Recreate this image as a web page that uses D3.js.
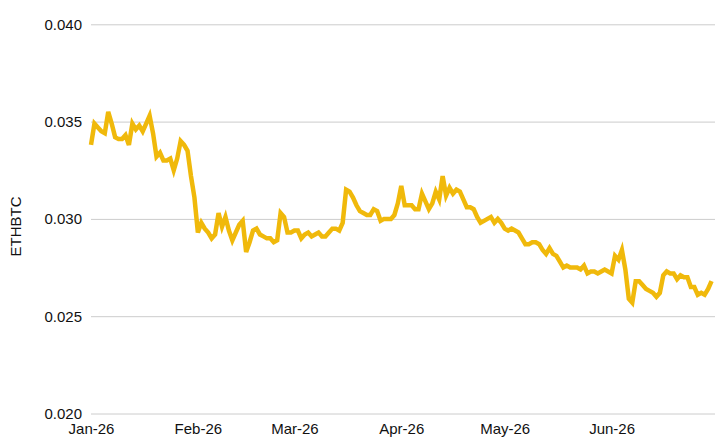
<!DOCTYPE html>
<html>
<head>
<meta charset="utf-8">
<script src="https://cdn.jsdelivr.net/npm/d3@7"></script>
<style>
  html, body { margin: 0; padding: 0; background: #fff; }
  svg { display: block; }
  text { font-family: "Liberation Sans", Arial, Helvetica, sans-serif; }
</style>
</head>
<body>
<svg id="chart" width="728" height="443"></svg>
<script>
// Daily ETHBTC closes, 1 Jan 2026 .. 30 Jun 2026
const startDate = "2026-01-01";
const ethbtc = [
  0.0338, 0.0349, 0.0347, 0.0345, 0.0344, 0.0355, 0.0349, 0.0342, 0.0341, 0.0341,
  0.0343, 0.0338, 0.0349, 0.0346, 0.0348, 0.0345, 0.0349, 0.0353, 0.0344, 0.0332,
  0.0334, 0.0330, 0.0330, 0.0331, 0.0325, 0.0331, 0.0340, 0.0338, 0.0335, 0.0322,
  0.0311, 0.0293, 0.0298, 0.0295, 0.0293, 0.0290, 0.0292, 0.0303, 0.0296, 0.0301,
  0.0294, 0.0289, 0.0293, 0.0297, 0.0299, 0.0283, 0.0288, 0.0294, 0.0295, 0.0292,
  0.0291, 0.0290, 0.0290, 0.0288, 0.0289, 0.0303, 0.0301, 0.0293, 0.0293, 0.0294,
  0.0294, 0.0290, 0.0292, 0.0293, 0.0291, 0.0292, 0.0293, 0.0291, 0.0291, 0.0293,
  0.0295, 0.0295, 0.0294, 0.0298, 0.0315, 0.0314, 0.0311, 0.0307, 0.0304, 0.0303,
  0.0302, 0.0302, 0.0305, 0.0304, 0.0299, 0.0300, 0.0300, 0.0300, 0.0302, 0.0308,
  0.0317, 0.0307, 0.0307, 0.0307, 0.0305, 0.0305, 0.0313, 0.0309, 0.0305, 0.0308,
  0.0314, 0.0310, 0.0322, 0.0312, 0.0316, 0.0313, 0.0315, 0.0314, 0.0310, 0.0306,
  0.0306, 0.0305, 0.0301, 0.0298, 0.0299, 0.0300, 0.0301, 0.0298, 0.0300, 0.0298,
  0.0295, 0.0294, 0.0295, 0.0294, 0.0293, 0.0290, 0.0287, 0.0287, 0.0288, 0.0288,
  0.0287, 0.0284, 0.0282, 0.0285, 0.0282, 0.0281, 0.0278, 0.0275, 0.0276, 0.0275,
  0.0275, 0.0275, 0.0274, 0.0276, 0.0272, 0.0273, 0.0273, 0.0272, 0.0273, 0.0274,
  0.0273, 0.0272, 0.0281, 0.0279, 0.0284, 0.0274, 0.0259, 0.0257, 0.0268, 0.0268,
  0.0266, 0.0264, 0.0263, 0.0262, 0.0260, 0.0262, 0.0271, 0.0273, 0.0272, 0.0272,
  0.0269, 0.0271, 0.0270, 0.0270, 0.0265, 0.0265, 0.0261, 0.0262, 0.0261, 0.0264,
  0.0268
];
const yTicks = [0.020, 0.025, 0.030, 0.035, 0.040];
const xTickLabels = ["Jan-26", "Feb-26", "Mar-26", "Apr-26", "May-26", "Jun-26"];
const xTickDates = ["2026-01-01", "2026-02-01", "2026-03-01", "2026-04-01", "2026-05-01", "2026-06-01"];
const yLabel = "ETHBTC";

(function () {
const parse = d3.utcParse("%Y-%m-%d");
const t0 = parse(startDate);
const data = ethbtc.map((v, i) => ({ date: d3.utcDay.offset(t0, i), value: v }));

const svg = d3.select("#chart");
const mLeft = 91, mRight = 715, mTop = 24.3, mBottom = 413.5;

const x = d3.scaleUtc()
  .domain([t0, parse("2026-07-01")])
  .range([mLeft, mRight]);
const y = d3.scaleLinear()
  .domain([0.020, 0.040])
  .range([mBottom, mTop]);

// Gridlines + y labels
const yAxis = d3.axisLeft(y)
  .tickValues(yTicks)
  .tickSize(-(mRight - mLeft))
  .tickPadding(9)
  .tickFormat(d3.format(".3f"));
const gy = svg.append("g")
  .attr("transform", `translate(${mLeft},0)`)
  .call(yAxis);
gy.select(".domain").remove();
gy.selectAll(".tick line").attr("stroke", "#cccccc").attr("stroke-width", 1);
gy.selectAll(".tick text")
  .attr("fill", "#111")
  .attr("font-size", 15)
  .attr("font-family", '"Liberation Sans", Arial, sans-serif');

// X axis labels
const xAxis = d3.axisBottom(x)
  .tickValues(xTickDates.map(parse))
  .tickSize(0)
  .tickPadding(0)
  .tickFormat((d, i) => xTickLabels[i]);
const gx = svg.append("g")
  .attr("transform", `translate(0,${mBottom})`)
  .call(xAxis);
gx.select(".domain").remove();
gx.selectAll(".tick text")
  .attr("fill", "#111")
  .attr("font-size", 15)
  .attr("dy", null)
  .attr("y", 20.5)
  .attr("font-family", '"Liberation Sans", Arial, sans-serif');

// Y axis title
svg.append("text")
  .attr("transform", `translate(20.5,226.5) rotate(-90)`)
  .attr("text-anchor", "middle")
  .attr("font-size", 15)
  .attr("fill", "#111")
  .text(yLabel);

// Line
const line = d3.line()
  .x(d => x(d.date))
  .y(d => y(d.value));
svg.append("path")
  .datum(data)
  .attr("fill", "none")
  .attr("stroke", "#F0B90B")
  .attr("stroke-width", 4.5)
  .attr("stroke-linejoin", "miter")
  .attr("d", line);
})();
</script>
</body>
</html>
